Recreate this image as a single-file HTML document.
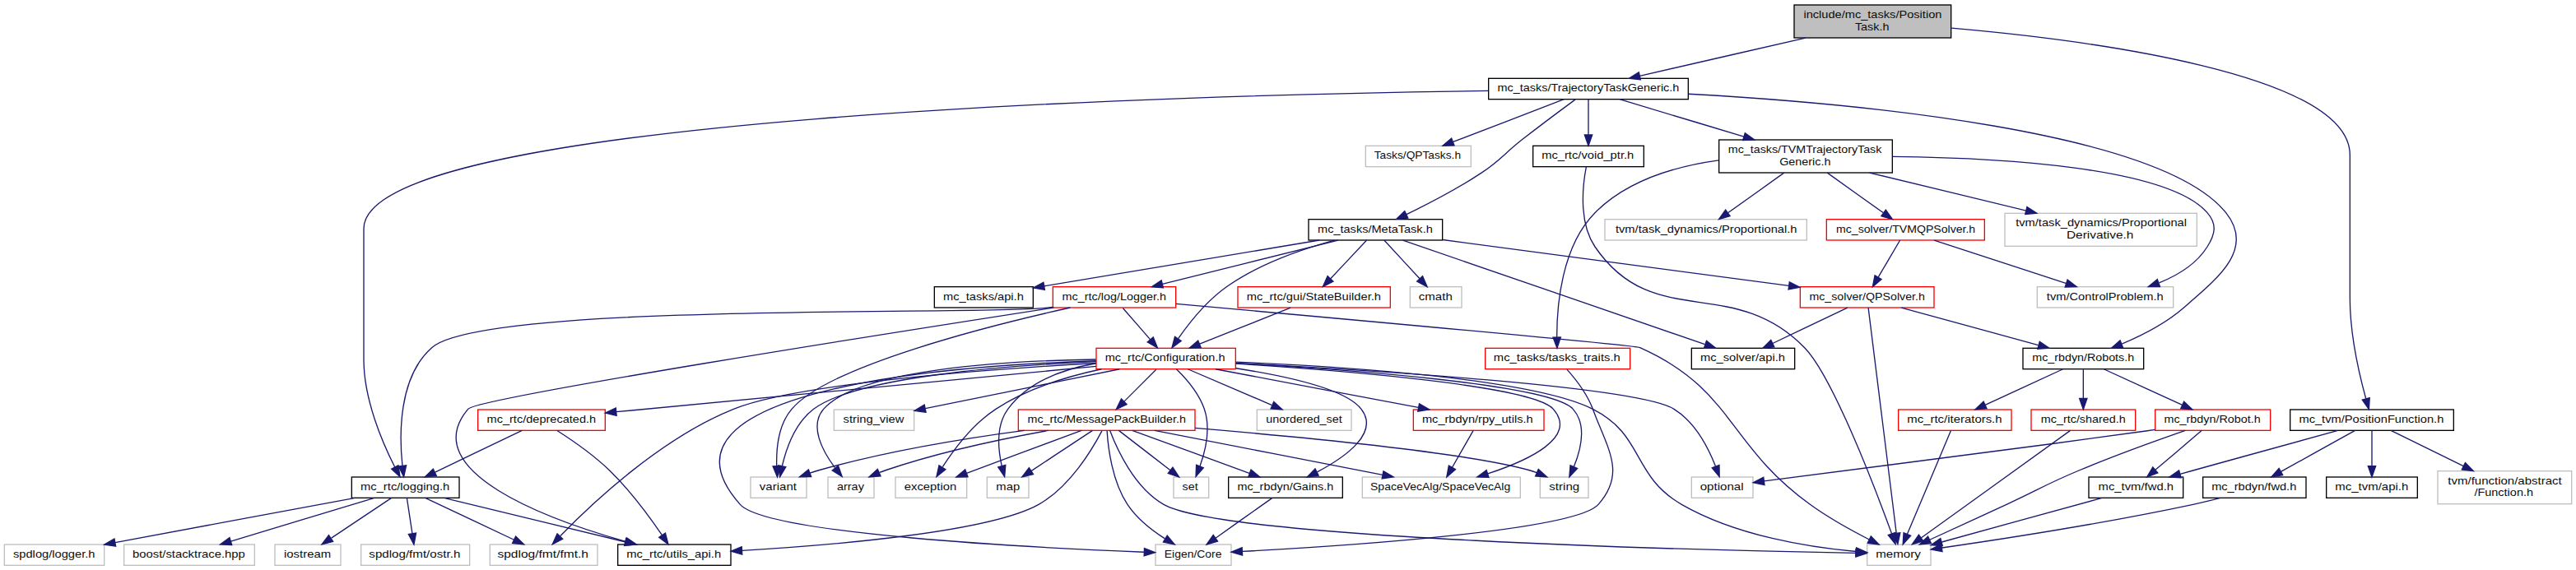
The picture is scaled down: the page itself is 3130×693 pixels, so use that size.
<!DOCTYPE html>
<html lang="en">
<head>
<meta charset="utf-8">
<title>include/mc_tasks/PositionTask.h include dependency graph</title>
<style>
html,body{margin:0;padding:0;background:#fff;overflow:hidden}
svg{display:block}
text{font-family:"Liberation Sans",sans-serif;font-size:10px;fill:#0d0d0d}
.e{fill:none;stroke:#191970;stroke-width:1}
.ah{fill:#191970;stroke:#191970;stroke-width:1}
</style>
</head>
<body>
<svg role="img" aria-label="Include dependency graph for PositionTask.h" width="3130" height="693" viewBox="0 0 2347.5 519.75">
<g transform="translate(4 516)">
<rect x="1631" y="-511.5" width="143" height="30" fill="#bfbfbf" stroke="#000"/>
<text x="1639.57" y="-499.5" textLength="126.00" lengthAdjust="spacingAndGlyphs">include/mc_tasks/Position</text>
<text x="1686.45" y="-488.5" textLength="31.10" lengthAdjust="spacingAndGlyphs">Task.h</text>
<rect x="1352.5" y="-444.5" width="182" height="19" fill="#fff" stroke="#000"/>
<text x="1360.69" y="-432.5" textLength="165.58" lengthAdjust="spacingAndGlyphs">mc_tasks/TrajectoryTaskGeneric.h</text>
<path class="e" d="M1641.45,-481.47C1595.2,-470.85 1532.62,-456.47 1490.3,-446.75"/>
<polygon class="ah" points="1491.06,-443.33 1480.53,-444.51 1489.49,-450.16 1491.06,-443.33"/>
<rect x="2083" y="-142.5" width="149" height="19" fill="#fff" stroke="#000"/>
<text x="2091.10" y="-130.5" textLength="131.87" lengthAdjust="spacingAndGlyphs">mc_tvm/PositionFunction.h</text>
<path class="e" d="M1774.33,-490.37C1897.88,-479.55 2137.5,-448.97 2137.5,-374.5 2137.5,-374.5 2137.5,-374.5 2137.5,-244 2137.5,-211.44 2146.09,-174.32 2152.01,-152.59"/>
<polygon class="ah" points="2155.44,-153.32 2154.8,-142.74 2148.71,-151.41 2155.44,-153.32"/>
<rect x="1188.5" y="-316" width="122" height="19" fill="#fff" stroke="#000"/>
<text x="1196.78" y="-304" textLength="104.79" lengthAdjust="spacingAndGlyphs">mc_tasks/MetaTask.h</text>
<path class="e" d="M1431.44,-425.18C1419.24,-416.21 1399.91,-401.84 1383.5,-389 1366.33,-375.57 1363.68,-370.02 1345.5,-358 1323.73,-343.6 1297.4,-330 1277.82,-320.54"/>
<polygon class="ah" points="1279.07,-317.26 1268.53,-316.12 1276.06,-323.58 1279.07,-317.26"/>
<rect x="316.5" y="-81" width="98" height="19" fill="#fff" stroke="#000"/>
<text x="324.52" y="-69" textLength="81.14" lengthAdjust="spacingAndGlyphs">mc_rtc/logging.h</text>
<path class="e" d="M1352.17,-433.18C1085.64,-429.6 327.5,-410.36 327.5,-307.5 327.5,-307.5 327.5,-307.5 327.5,-188 327.5,-151.75 344.59,-112.17 355.85,-90.03"/>
<polygon class="ah" points="358.96,-91.64 360.53,-81.16 352.77,-88.37 358.96,-91.64"/>
<rect x="1839.5" y="-198.5" width="110" height="19" fill="#fff" stroke="#000"/>
<text x="1847.99" y="-186.5" textLength="92.84" lengthAdjust="spacingAndGlyphs">mc_rbdyn/Robots.h</text>
<path class="e" d="M1534.61,-430.32C1682.56,-422.19 1964.61,-397.01 2024.5,-322 2050.94,-288.88 2017.61,-262.65 1985.5,-235 1969.16,-220.93 1947.65,-210.03 1929.65,-202.49"/>
<polygon class="ah" points="1930.65,-199.11 1920.07,-198.64 1928.04,-205.61 1930.65,-199.11"/>
<rect x="1562.5" y="-388.5" width="158" height="30" fill="#fff" stroke="#000"/>
<text x="1570.88" y="-376.5" textLength="139.88" lengthAdjust="spacingAndGlyphs">mc_tasks/TVMTrajectoryTask</text>
<text x="1617.60" y="-365.5" textLength="46.73" lengthAdjust="spacingAndGlyphs">Generic.h</text>
<path class="e" d="M1471.87,-425.48C1501.32,-416.63 1548.16,-402.55 1585.17,-391.43"/>
<polygon class="ah" points="1586.27,-394.75 1594.84,-388.52 1584.25,-388.05 1586.27,-394.75"/>
<rect x="1393" y="-383" width="101" height="19" fill="#fff" stroke="#000"/>
<text x="1400.86" y="-371" textLength="84.08" lengthAdjust="spacingAndGlyphs">mc_rtc/void_ptr.h</text>
<path class="e" d="M1443.5,-425.48C1443.5,-417.08 1443.5,-403.98 1443.5,-393.16"/>
<polygon class="ah" points="1447,-393.01 1443.5,-383.01 1440,-393.01 1447,-393.01"/>
<rect x="1240.5" y="-383" width="96" height="19" fill="#fff" stroke="#bfbfbf"/>
<text x="1248.31" y="-371" textLength="78.99" lengthAdjust="spacingAndGlyphs">Tasks/QPTasks.h</text>
<path class="e" d="M1421.29,-425.48C1394.82,-415.31 1350.39,-398.26 1320.28,-386.7"/>
<polygon class="ah" points="1321.26,-383.33 1310.67,-383.01 1318.75,-389.86 1321.26,-383.33"/>
<rect x="847.5" y="-254.5" width="90" height="19" fill="#fff" stroke="#000"/>
<text x="855.55" y="-242.5" textLength="73.34" lengthAdjust="spacingAndGlyphs">mc_tasks/api.h</text>
<path class="e" d="M1198.35,-296.98C1131.87,-285.9 1016.22,-266.62 947.78,-255.21"/>
<polygon class="ah" points="948.06,-251.71 937.63,-253.52 946.91,-258.62 948.06,-251.71"/>
<rect x="995" y="-198.5" width="127" height="19" fill="#fff" stroke="#f00"/>
<text x="1003.01" y="-186.5" textLength="109.39" lengthAdjust="spacingAndGlyphs">mc_rtc/Configuration.h</text>
<path class="e" d="M1212.16,-296.95C1183.62,-289.2 1144.27,-275.75 1114.5,-255 1096.06,-242.14 1079.89,-221.85 1069.74,-207.36"/>
<polygon class="ah" points="1072.46,-205.14 1063.96,-198.81 1066.66,-209.06 1072.46,-205.14"/>
<rect x="1124" y="-254.5" width="139" height="19" fill="#fff" stroke="#f00"/>
<text x="1132.05" y="-242.5" textLength="122.44" lengthAdjust="spacingAndGlyphs">mc_rtc/gui/StateBuilder.h</text>
<path class="e" d="M1241.48,-296.98C1232.91,-287.87 1219.14,-273.24 1208.54,-261.98"/>
<polygon class="ah" points="1210.91,-259.39 1201.51,-254.51 1205.81,-264.19 1210.91,-259.39"/>
<rect x="955.5" y="-254.5" width="112" height="19" fill="#fff" stroke="#f00"/>
<text x="963.96" y="-242.5" textLength="94.74" lengthAdjust="spacingAndGlyphs">mc_rtc/log/Logger.h</text>
<path class="e" d="M1215.4,-296.98C1173.25,-286.44 1101.45,-268.49 1055.27,-256.94"/>
<polygon class="ah" points="1056.09,-253.54 1045.54,-254.51 1054.39,-260.33 1056.09,-253.54"/>
<rect x="1636.5" y="-254.5" width="122" height="19" fill="#fff" stroke="#f00"/>
<text x="1644.84" y="-242.5" textLength="105.28" lengthAdjust="spacingAndGlyphs">mc_solver/QPSolver.h</text>
<path class="e" d="M1310.85,-297.35C1393.15,-286.42 1538.98,-267.05 1626.11,-255.48"/>
<polygon class="ah" points="1626.72,-258.93 1636.17,-254.15 1625.8,-251.99 1626.72,-258.93"/>
<rect x="1537.5" y="-198.5" width="94" height="19" fill="#fff" stroke="#000"/>
<text x="1545.48" y="-186.5" textLength="77.24" lengthAdjust="spacingAndGlyphs">mc_solver/api.h</text>
<path class="e" d="M1274.41,-296.91C1333.4,-276.57 1481.77,-225.42 1549.64,-202.02"/>
<polygon class="ah" points="1551.12,-205.21 1559.43,-198.64 1548.84,-198.59 1551.12,-205.21"/>
<rect x="1281" y="-254.5" width="47" height="19" fill="#fff" stroke="#bfbfbf"/>
<text x="1288.81" y="-242.5" textLength="30.80" lengthAdjust="spacingAndGlyphs">cmath</text>
<path class="e" d="M1257.38,-296.98C1265.79,-287.87 1279.32,-273.24 1289.73,-261.98"/>
<polygon class="ah" points="1292.42,-264.23 1296.63,-254.51 1287.28,-259.48 1292.42,-264.23"/>
<rect x="924" y="-142.5" width="161" height="19" fill="#fff" stroke="#f00"/>
<text x="932.35" y="-130.5" textLength="144.37" lengthAdjust="spacingAndGlyphs">mc_rtc/MessagePackBuilder.h</text>
<path class="e" d="M1049.58,-179.08C1041.72,-171.22 1030.07,-159.57 1020.58,-150.08"/>
<polygon class="ah" points="1022.8,-147.35 1013.25,-142.75 1017.85,-152.3 1022.8,-147.35"/>
<rect x="1115.5" y="-81" width="104" height="19" fill="#fff" stroke="#000"/>
<text x="1123.55" y="-69" textLength="87.69" lengthAdjust="spacingAndGlyphs">mc_rbdyn/Gains.h</text>
<path class="e" d="M1122.33,-180.17C1167.46,-173.17 1222.35,-161.17 1236.5,-143 1253.37,-121.34 1222.05,-99.16 1196.28,-85.61"/>
<polygon class="ah" points="1197.65,-82.38 1187.14,-81.02 1194.51,-88.63 1197.65,-82.38"/>
<rect x="1049" y="-19.5" width="69" height="19" fill="#fff" stroke="#bfbfbf"/>
<text x="1057.09" y="-7.5" textLength="52.23" lengthAdjust="spacingAndGlyphs">Eigen/Core</text>
<path class="e" d="M994.8,-186.94C862.13,-182.65 576.07,-161.27 670.5,-56 694.75,-28.97 936.4,-16.62 1038.42,-12.58"/>
<polygon class="ah" points="1038.86,-16.07 1048.71,-12.18 1038.59,-9.07 1038.86,-16.07"/>
<rect x="1237.5" y="-81" width="144" height="19" fill="#fff" stroke="#bfbfbf"/>
<text x="1244.79" y="-69" textLength="127.60" lengthAdjust="spacingAndGlyphs">SpaceVecAlg/SpaceVecAlg</text>
<path class="e" d="M1122.1,-184.38C1218.57,-178.24 1392.72,-164.33 1411.5,-143 1434.16,-117.27 1389.14,-96.27 1351.89,-84.07"/>
<polygon class="ah" points="1352.73,-80.67 1342.14,-81.01 1350.64,-87.34 1352.73,-80.67"/>
<rect x="750.5" y="-81" width="42" height="19" fill="#fff" stroke="#bfbfbf"/>
<text x="758.76" y="-69" textLength="24.63" lengthAdjust="spacingAndGlyphs">array</text>
<path class="e" d="M994.68,-188.22C912.91,-186.98 777.94,-179.3 746.5,-143 733.28,-127.74 745.34,-105.01 756.85,-89.51"/>
<polygon class="ah" points="759.87,-91.34 763.37,-81.34 754.4,-86.97 759.87,-91.34"/>
<rect x="812" y="-81" width="65" height="19" fill="#fff" stroke="#bfbfbf"/>
<text x="820.12" y="-69" textLength="47.48" lengthAdjust="spacingAndGlyphs">exception</text>
<path class="e" d="M999.83,-179.44C969.27,-172.96 932.36,-161.84 903.5,-143 882.69,-129.42 865.37,-106.28 854.99,-90.24"/>
<polygon class="ah" points="857.7,-87.96 849.46,-81.31 851.75,-91.65 857.7,-87.96"/>
<rect x="895.5" y="-81" width="38" height="19" fill="#fff" stroke="#bfbfbf"/>
<text x="903.77" y="-69" textLength="21.59" lengthAdjust="spacingAndGlyphs">map</text>
<path class="e" d="M994.78,-184.71C965.38,-179.6 932.96,-168.11 914.5,-143 903.65,-128.24 905.49,-106.64 908.88,-91.24"/>
<polygon class="ah" points="912.34,-91.88 911.48,-81.32 905.56,-90.11 912.34,-91.88"/>
<rect x="1697.5" y="-19.5" width="58" height="19" fill="#fff" stroke="#bfbfbf"/>
<text x="1705.42" y="-7.5" textLength="40.87" lengthAdjust="spacingAndGlyphs">memory</text>
<path class="e" d="M1122.2,-185.94C1217.54,-181.97 1392.06,-171.03 1447.5,-143 1494.65,-119.16 1482.71,-82.36 1528.5,-56 1578.49,-27.22 1645.47,-16.85 1687.3,-13.11"/>
<polygon class="ah" points="1687.68,-16.59 1697.36,-12.29 1687.11,-9.61 1687.68,-16.59"/>
<rect x="1065.5" y="-81" width="32" height="19" fill="#fff" stroke="#bfbfbf"/>
<text x="1073.42" y="-69" textLength="14.29" lengthAdjust="spacingAndGlyphs">set</text>
<path class="e" d="M1068.06,-179.45C1076.59,-171.12 1088.49,-157.6 1093.5,-143 1099.4,-125.8 1094.62,-105.21 1089.45,-90.73"/>
<polygon class="ah" points="1092.7,-89.42 1085.77,-81.41 1086.19,-92 1092.7,-89.42"/>
<rect x="1399.5" y="-81" width="44" height="19" fill="#fff" stroke="#bfbfbf"/>
<text x="1407.77" y="-69" textLength="27.61" lengthAdjust="spacingAndGlyphs">string</text>
<path class="e" d="M1122.06,-184.81C1222.71,-179.1 1409.49,-165.58 1429.5,-143 1442.1,-128.78 1436.61,-106.11 1430.26,-90.33"/>
<polygon class="ah" points="1433.42,-88.81 1426.14,-81.11 1427.03,-91.67 1433.42,-88.81"/>
<rect x="680" y="-81" width="51" height="19" fill="#fff" stroke="#bfbfbf"/>
<text x="688.15" y="-69" textLength="33.79" lengthAdjust="spacingAndGlyphs">variant</text>
<path class="e" d="M994.97,-186.22C913.23,-182.74 777.05,-172.57 737.5,-143 720.88,-130.57 712.67,-107.5 708.77,-91.13"/>
<polygon class="ah" points="712.15,-90.18 706.71,-81.09 705.29,-91.59 712.15,-90.18"/>
<rect x="431.5" y="-142.5" width="116" height="19" fill="#fff" stroke="#f00"/>
<text x="439.63" y="-130.5" textLength="99.52" lengthAdjust="spacingAndGlyphs">mc_rtc/deprecated.h</text>
<path class="e" d="M994.88,-181.96C886.9,-171.71 668.66,-151 557.66,-140.47"/>
<polygon class="ah" points="557.87,-136.97 547.59,-139.51 557.21,-143.94 557.87,-136.97"/>
<rect x="442.5" y="-19.5" width="98" height="19" fill="#fff" stroke="#bfbfbf"/>
<text x="449.30" y="-7.5" textLength="82.97" lengthAdjust="spacingAndGlyphs">spdlog/fmt/fmt.h</text>
<path class="e" d="M994.91,-184.85C899.16,-179.41 722.94,-166.53 664.5,-143 597.84,-116.16 534.72,-56.33 506.69,-27.35"/>
<polygon class="ah" points="508.87,-24.57 499.45,-19.73 503.8,-29.39 508.87,-24.57"/>
<rect x="1284" y="-142.5" width="119" height="19" fill="#fff" stroke="#f00"/>
<text x="1291.95" y="-130.5" textLength="101.04" lengthAdjust="spacingAndGlyphs">mc_rbdyn/rpy_utils.h</text>
<path class="e" d="M1103.66,-179.44C1153.79,-169.94 1234.72,-154.61 1288.51,-144.42"/>
<polygon class="ah" points="1289.38,-147.82 1298.55,-142.52 1288.08,-140.94 1289.38,-147.82"/>
<rect x="1537.5" y="-81" width="56" height="19" fill="#fff" stroke="#bfbfbf"/>
<text x="1545.24" y="-69" textLength="39.69" lengthAdjust="spacingAndGlyphs">optional</text>
<path class="e" d="M1122.34,-184.92C1241.4,-178.72 1488.34,-163.56 1521.5,-143 1540.61,-131.15 1552.76,-107.6 1559.34,-90.99"/>
<polygon class="ah" points="1562.75,-91.86 1562.88,-81.26 1556.17,-89.46 1562.75,-91.86"/>
<rect x="756" y="-142.5" width="73" height="19" fill="#fff" stroke="#bfbfbf"/>
<text x="764.44" y="-130.5" textLength="55.33" lengthAdjust="spacingAndGlyphs">string_view</text>
<path class="e" d="M1016.35,-179.44C968.11,-169.65 889.32,-153.66 839.23,-143.49"/>
<polygon class="ah" points="839.81,-140.03 829.31,-141.47 838.42,-146.89 839.81,-140.03"/>
<rect x="1141.5" y="-142.5" width="86" height="19" fill="#fff" stroke="#bfbfbf"/>
<text x="1149.67" y="-130.5" textLength="69.38" lengthAdjust="spacingAndGlyphs">unordered_set</text>
<path class="e" d="M1078.47,-179.44C1099.11,-170.6 1131.56,-156.69 1155.13,-146.59"/>
<polygon class="ah" points="1156.82,-149.67 1164.63,-142.52 1154.06,-143.24 1156.82,-149.67"/>
<rect x="559" y="-19.5" width="103" height="19" fill="#fff" stroke="#000"/>
<text x="566.85" y="-7.5" textLength="86.26" lengthAdjust="spacingAndGlyphs">mc_rtc/utils_api.h</text>
<path class="e" d="M1000.16,-123.12C991.64,-106.74 971.02,-71.98 942.5,-56 897.44,-30.76 755.12,-18.88 672.17,-13.97"/>
<polygon class="ah" points="672.3,-10.48 662.11,-13.4 671.9,-17.46 672.3,-10.48"/>
<path class="e" d="M1027.85,-123.48C1055.81,-113.27 1102.83,-96.11 1134.49,-84.55"/>
<polygon class="ah" points="1136,-87.73 1144.19,-81.01 1133.6,-81.15 1136,-87.73"/>
<path class="e" d="M1004.82,-123.27C1005.74,-108.3 1009.36,-77.3 1023.5,-56 1032.05,-43.12 1045.58,-32.51 1057.62,-24.83"/>
<polygon class="ah" points="1059.67,-27.69 1066.44,-19.54 1056.06,-21.68 1059.67,-27.69"/>
<path class="e" d="M1048.2,-123.48C1103.01,-112.78 1196.94,-94.46 1256,-82.94"/>
<polygon class="ah" points="1256.74,-86.36 1265.88,-81.01 1255.4,-79.49 1256.74,-86.36"/>
<path class="e" d="M951.32,-123.43C910.07,-116.01 851.81,-103.8 802.5,-87 800.84,-86.43 799.15,-85.8 797.45,-85.14"/>
<polygon class="ah" points="798.52,-81.78 787.96,-81.01 795.73,-88.2 798.52,-81.78"/>
<path class="e" d="M981.58,-123.48C954.13,-113.27 907.98,-96.11 876.9,-84.55"/>
<polygon class="ah" points="877.97,-81.21 867.38,-81.01 875.53,-87.78 877.97,-81.21"/>
<path class="e" d="M991.61,-123.48C977.04,-113.84 953.1,-98.02 935.75,-86.55"/>
<polygon class="ah" points="937.64,-83.6 927.37,-81.01 933.78,-89.44 937.64,-83.6"/>
<path class="e" d="M1007.43,-123.49C1013.59,-107.1 1029.57,-71.38 1056.5,-56 1111.2,-24.76 1551.16,-14.19 1686.82,-11.66"/>
<polygon class="ah" points="1687.22,-15.15 1697.16,-11.47 1687.1,-8.16 1687.22,-15.15"/>
<path class="e" d="M1015.53,-123.48C1027.77,-114.02 1047.73,-98.6 1062.49,-87.19"/>
<polygon class="ah" points="1064.72,-89.89 1070.49,-81.01 1060.44,-84.35 1064.72,-89.89"/>
<path class="e" d="M1085.13,-125.66C1180.98,-117.59 1334.93,-102.79 1390.5,-87 1392.43,-86.45 1394.39,-85.8 1396.34,-85.07"/>
<polygon class="ah" points="1397.96,-88.18 1405.79,-81.04 1395.22,-81.74 1397.96,-88.18"/>
<path class="e" d="M929.3,-123.47C876.18,-116.4 803.67,-104.62 741.5,-87 739.06,-86.31 736.56,-85.51 734.07,-84.64"/>
<polygon class="ah" points="735.26,-81.35 724.67,-81.1 732.79,-87.9 735.26,-81.35"/>
<path class="e" d="M1155.46,-61.98C1141.99,-52.43 1119.93,-36.81 1103.78,-25.37"/>
<polygon class="ah" points="1105.7,-22.43 1095.51,-19.51 1101.65,-28.15 1105.7,-22.43"/>
<path class="e" d="M503.67,-123.37C516.83,-114.99 536.59,-101.43 551.5,-87 570.36,-68.74 588.3,-44.26 599.34,-28.07"/>
<polygon class="ah" points="602.35,-29.87 605,-19.61 596.53,-25.98 602.35,-29.87"/>
<path class="e" d="M471.73,-123.48C451.02,-113.53 416.55,-96.99 392.51,-85.46"/>
<polygon class="ah" points="393.76,-82.18 383.23,-81.01 390.73,-88.49 393.76,-82.18"/>
<path class="e" d="M400.6,-61.98C443.99,-51.44 517.91,-33.49 565.45,-21.94"/>
<polygon class="ah" points="566.57,-25.27 575.46,-19.51 564.92,-18.47 566.57,-25.27"/>
<rect x="246.5" y="-19.5" width="60" height="19" fill="#fff" stroke="#bfbfbf"/>
<text x="254.78" y="-7.5" textLength="42.77" lengthAdjust="spacingAndGlyphs">iostream</text>
<path class="e" d="M352.75,-61.98C338.47,-52.43 315.1,-36.81 297.99,-25.37"/>
<polygon class="ah" points="299.49,-22.16 289.23,-19.51 295.6,-27.98 299.49,-22.16"/>
<path class="e" d="M383.55,-61.98C404.7,-51.99 439.94,-35.35 464.38,-23.81"/>
<polygon class="ah" points="465.93,-26.94 473.48,-19.51 462.94,-20.61 465.93,-26.94"/>
<rect x="325" y="-19.5" width="99" height="19" fill="#fff" stroke="#bfbfbf"/>
<text x="332.24" y="-7.5" textLength="83.25" lengthAdjust="spacingAndGlyphs">spdlog/fmt/ostr.h</text>
<path class="e" d="M366.79,-61.98C368.06,-53.58 370.04,-40.48 371.68,-29.66"/>
<polygon class="ah" points="375.18,-29.92 373.21,-19.51 368.26,-28.87 375.18,-29.92"/>
<rect x="0" y="-19.5" width="91" height="19" fill="#fff" stroke="#bfbfbf"/>
<text x="8.00" y="-7.5" textLength="74.59" lengthAdjust="spacingAndGlyphs">spdlog/logger.h</text>
<path class="e" d="M319.65,-61.98C261.95,-51.25 162.9,-32.83 100.99,-21.32"/>
<polygon class="ah" points="101.48,-17.85 91,-19.46 100.2,-24.73 101.48,-17.85"/>
<rect x="109" y="-19.5" width="119" height="19" fill="#fff" stroke="#bfbfbf"/>
<text x="116.80" y="-7.5" textLength="102.60" lengthAdjust="spacingAndGlyphs">boost/stacktrace.hpp</text>
<path class="e" d="M337.27,-61.98C302.9,-51.59 244.69,-34.01 206.42,-22.45"/>
<polygon class="ah" points="207.26,-19.05 196.67,-19.51 205.23,-25.75 207.26,-19.05"/>
<path class="e" d="M1338.63,-123.48C1333.63,-114.73 1325.71,-100.87 1319.39,-89.81"/>
<polygon class="ah" points="1322.36,-87.96 1314.36,-81.01 1316.28,-91.43 1322.36,-87.96"/>
<path class="e" d="M1172.11,-235.44C1149.79,-226.52 1114.6,-212.44 1089.29,-202.32"/>
<polygon class="ah" points="1090.38,-198.98 1079.79,-198.52 1087.78,-205.48 1090.38,-198.98"/>
<path class="e" d="M1019.26,-235.08C1026.04,-227.3 1036.04,-215.8 1044.26,-206.37"/>
<polygon class="ah" points="1046.96,-208.59 1050.88,-198.75 1041.68,-204 1046.96,-208.59"/>
<path class="e" d="M956.24,-235.48C811.37,-213.04 431.16,-153.27 422.5,-143 374.48,-86.04 496.65,-41.92 566.2,-22.23"/>
<polygon class="ah" points="567.35,-25.55 576.06,-19.51 565.48,-18.8 567.35,-25.55"/>
<path class="e" d="M1067.67,-238.96C1193.15,-227.66 1485.71,-201.14 1490.5,-199 1576.1,-160.83 1569.55,-110.93 1645.5,-56 1662.5,-43.71 1683.2,-32.26 1699.42,-23.99"/>
<polygon class="ah" points="1701.01,-27.11 1708.39,-19.5 1697.88,-20.85 1701.01,-27.11"/>
<path class="e" d="M971.29,-235.5C898.87,-219.36 750.96,-182.38 717.5,-143 705.34,-128.69 703.36,-106.67 703.78,-91.05"/>
<polygon class="ah" points="707.27,-91.21 704.39,-81.01 700.29,-90.78 707.27,-91.21"/>
<path class="e" d="M955.16,-235.94C952.23,-235.6 949.33,-235.29 946.5,-235 884.8,-228.74 435.96,-240.08 389.5,-199 359.03,-172.06 359.75,-119.52 362.71,-91.38"/>
<polygon class="ah" points="366.21,-91.62 363.99,-81.26 359.26,-90.74 366.21,-91.62"/>
<path class="e" d="M1698.57,-235.43C1702.76,-201.75 1718.16,-77.99 1724.12,-30.1"/>
<polygon class="ah" points="1727.63,-30.25 1725.39,-19.9 1720.68,-29.39 1727.63,-30.25"/>
<path class="e" d="M1679.59,-235.44C1661.25,-226.68 1632.49,-212.94 1611.41,-202.86"/>
<polygon class="ah" points="1612.85,-199.67 1602.32,-198.52 1609.83,-205.99 1612.85,-199.67"/>
<path class="e" d="M1728.72,-235.44C1762.43,-226.2 1816.3,-211.44 1853.43,-201.26"/>
<polygon class="ah" points="1854.71,-204.54 1863.43,-198.52 1852.86,-197.78 1854.71,-204.54"/>
<rect x="1960" y="-142.5" width="105" height="19" fill="#fff" stroke="#f00"/>
<text x="1968.09" y="-130.5" textLength="87.89" lengthAdjust="spacingAndGlyphs">mc_rbdyn/Robot.h</text>
<path class="e" d="M1913.2,-179.44C1932.44,-170.64 1962.65,-156.81 1984.7,-146.72"/>
<polygon class="ah" points="1986.25,-149.86 1993.89,-142.52 1983.34,-143.5 1986.25,-149.86"/>
<rect x="1726" y="-142.5" width="103" height="19" fill="#fff" stroke="#f00"/>
<text x="1734.01" y="-130.5" textLength="86.41" lengthAdjust="spacingAndGlyphs">mc_rtc/iterators.h</text>
<path class="e" d="M1875.96,-179.44C1856.88,-170.64 1826.93,-156.81 1805.06,-146.72"/>
<polygon class="ah" points="1806.5,-143.53 1795.95,-142.52 1803.57,-149.88 1806.5,-143.53"/>
<rect x="1847" y="-142.5" width="95" height="19" fill="#fff" stroke="#f00"/>
<text x="1855.89" y="-130.5" textLength="77.13" lengthAdjust="spacingAndGlyphs">mc_rtc/shared.h</text>
<path class="e" d="M1894.5,-179.08C1894.5,-172.01 1894.5,-161.86 1894.5,-152.99"/>
<polygon class="ah" points="1898,-152.75 1894.5,-142.75 1891,-152.75 1898,-152.75"/>
<path class="e" d="M1987.49,-123.48C1962.66,-114.86 1923.61,-100.85 1890.5,-87 1860.6,-74.49 1853.89,-69.65 1824.5,-56 1800.97,-45.07 1774.19,-32.79 1754.58,-23.82"/>
<polygon class="ah" points="1755.86,-20.55 1745.31,-19.58 1752.95,-26.92 1755.86,-20.55"/>
<path class="e" d="M1959.94,-124.19C1957.08,-123.78 1954.26,-123.38 1951.5,-123 1824.16,-105.28 1672.92,-86.01 1603.62,-77.28"/>
<polygon class="ah" points="1603.97,-73.79 1593.61,-76.02 1603.1,-80.74 1603.97,-73.79"/>
<rect x="1899.5" y="-81" width="86" height="19" fill="#fff" stroke="#000"/>
<text x="1908.21" y="-69" textLength="68.55" lengthAdjust="spacingAndGlyphs">mc_tvm/fwd.h</text>
<path class="e" d="M2002.47,-123.48C1991.45,-114.11 1973.54,-98.88 1960.16,-87.51"/>
<polygon class="ah" points="1962.4,-84.82 1952.51,-81.01 1957.86,-90.15 1962.4,-84.82"/>
<path class="e" d="M1911.55,-61.98C1873.08,-51.38 1807.39,-33.28 1765.51,-21.74"/>
<polygon class="ah" points="1766.23,-18.31 1755.66,-19.03 1764.37,-25.06 1766.23,-18.31"/>
<path class="e" d="M1773.83,-123.3C1765.53,-103.59 1745.13,-55.21 1734.02,-28.84"/>
<polygon class="ah" points="1737.24,-27.48 1730.13,-19.62 1730.79,-30.2 1737.24,-27.48"/>
<path class="e" d="M1882.69,-123.49C1854.32,-103.06 1782.09,-51.04 1746.68,-25.54"/>
<polygon class="ah" points="1748.69,-22.67 1738.53,-19.66 1744.59,-28.35 1748.69,-22.67"/>
<rect x="1349.5" y="-198.5" width="132" height="19" fill="#fff" stroke="#f00"/>
<text x="1357.14" y="-186.5" textLength="115.44" lengthAdjust="spacingAndGlyphs">mc_tasks/tasks_traits.h</text>
<path class="e" d="M1562.17,-369.85C1523.42,-364.46 1478.91,-351.57 1449.5,-322 1418.99,-291.33 1414.72,-237.15 1414.77,-208.68"/>
<polygon class="ah" points="1418.27,-208.57 1414.98,-198.5 1411.27,-208.43 1418.27,-208.57"/>
<rect x="1660.5" y="-316" width="144" height="19" fill="#fff" stroke="#f00"/>
<text x="1669.30" y="-304" textLength="126.87" lengthAdjust="spacingAndGlyphs">mc_solver/TVMQPSolver.h</text>
<path class="e" d="M1661.25,-358.4C1676.36,-347.6 1697.14,-332.76 1712.36,-321.89"/>
<polygon class="ah" points="1714.49,-324.67 1720.59,-316.01 1710.42,-318.97 1714.49,-324.67"/>
<rect x="1852.5" y="-254.5" width="124" height="19" fill="#fff" stroke="#bfbfbf"/>
<text x="1861.13" y="-242.5" textLength="106.34" lengthAdjust="spacingAndGlyphs">tvm/ControlProblem.h</text>
<path class="e" d="M1720.89,-373.2C1817.16,-372.16 1971.1,-363.77 2007.5,-322 2016.55,-311.61 2014.82,-302.67 2007.5,-291 1997.62,-275.25 1980.5,-264.87 1963.61,-258.11"/>
<polygon class="ah" points="1964.35,-254.65 1953.75,-254.52 1961.96,-261.23 1964.35,-254.65"/>
<rect x="1458.5" y="-316" width="184" height="19" fill="#fff" stroke="#bfbfbf"/>
<text x="1468.20" y="-304" textLength="165.44" lengthAdjust="spacingAndGlyphs">tvm/task_dynamics/Proportional.h</text>
<path class="e" d="M1621.75,-358.4C1606.64,-347.6 1585.86,-332.76 1570.64,-321.89"/>
<polygon class="ah" points="1572.58,-318.97 1562.41,-316.01 1568.51,-324.67 1572.58,-318.97"/>
<rect x="1823" y="-321.5" width="175" height="30" fill="#fff" stroke="#bfbfbf"/>
<text x="1832.87" y="-309.5" textLength="155.92" lengthAdjust="spacingAndGlyphs">tvm/task_dynamics/Proportional</text>
<text x="1879.21" y="-298.5" textLength="61.04" lengthAdjust="spacingAndGlyphs">Derivative.h</text>
<path class="e" d="M1699.54,-358.48C1741.47,-348.34 1798.24,-334.63 1842.33,-323.97"/>
<polygon class="ah" points="1843.2,-327.36 1852.1,-321.61 1841.56,-320.56 1843.2,-327.36"/>
<path class="e" d="M1423.96,-179.19C1431.57,-170.67 1442.32,-157.03 1447.5,-143 1460.91,-106.67 1478.18,-85 1452.5,-56 1431.29,-32.04 1221.5,-18.2 1128.03,-13.18"/>
<polygon class="ah" points="1128.2,-9.68 1118.03,-12.65 1127.83,-16.67 1128.2,-9.68"/>
<path class="e" d="M1727.49,-296.98C1722.34,-288.23 1714.19,-274.37 1707.68,-263.31"/>
<polygon class="ah" points="1710.59,-261.35 1702.51,-254.51 1704.56,-264.9 1710.59,-261.35"/>
<path class="e" d="M1758.58,-296.98C1790.07,-286.68 1843.2,-269.31 1878.56,-257.75"/>
<polygon class="ah" points="1880.05,-260.94 1888.47,-254.51 1877.88,-254.29 1880.05,-260.94"/>
<path class="e" d="M1441.56,-363.99C1438.46,-348.1 1434.17,-313.52 1449.5,-291 1502.52,-213.11 1574.54,-266.28 1640.5,-199 1665.81,-173.18 1704.54,-71.57 1719.9,-29.45"/>
<polygon class="ah" points="1723.25,-30.48 1723.35,-19.89 1716.66,-28.1 1723.25,-30.48"/>
<path class="e" d="M2126.55,-123.48C2093.76,-114.45 2040.47,-99.75 1994.5,-87 1990.7,-85.94 1986.74,-84.84 1982.78,-83.74"/>
<polygon class="ah" points="1983.59,-80.34 1973.02,-81.02 1981.71,-87.08 1983.59,-80.34"/>
<rect x="2116" y="-81" width="83" height="19" fill="#fff" stroke="#000"/>
<text x="2124.02" y="-69" textLength="66.73" lengthAdjust="spacingAndGlyphs">mc_tvm/api.h</text>
<path class="e" d="M2157.5,-123.48C2157.5,-115.08 2157.5,-101.98 2157.5,-91.16"/>
<polygon class="ah" points="2161,-91.01 2157.5,-81.01 2154,-91.01 2161,-91.01"/>
<rect x="2003.5" y="-81" width="94" height="19" fill="#fff" stroke="#000"/>
<text x="2011.35" y="-69" textLength="77.35" lengthAdjust="spacingAndGlyphs">mc_rbdyn/fwd.h</text>
<path class="e" d="M2142.17,-123.48C2124.53,-113.67 2095.34,-97.43 2074.64,-85.92"/>
<polygon class="ah" points="2076.24,-82.81 2065.8,-81.01 2072.84,-88.93 2076.24,-82.81"/>
<rect x="2217.5" y="-86.5" width="122" height="30" fill="#fff" stroke="#bfbfbf"/>
<text x="2226.75" y="-74.5" textLength="103.76" lengthAdjust="spacingAndGlyphs">tvm/function/abstract</text>
<text x="2250.79" y="-63.5" textLength="53.74" lengthAdjust="spacingAndGlyphs">/Function.h</text>
<path class="e" d="M2174.84,-123.48C2191.99,-115.04 2218.8,-101.86 2240.86,-91.01"/>
<polygon class="ah" points="2242.55,-94.08 2249.98,-86.52 2239.46,-87.79 2242.55,-94.08"/>
<path class="e" d="M2019.51,-61.96C2011.41,-59.87 2002.65,-57.74 1994.5,-56 1913.77,-38.81 1818.22,-24.1 1765.81,-16.51"/>
<polygon class="ah" points="1766,-13 1755.61,-15.04 1765.01,-19.93 1766,-13"/>
</g>
</svg>
</body>
</html>
